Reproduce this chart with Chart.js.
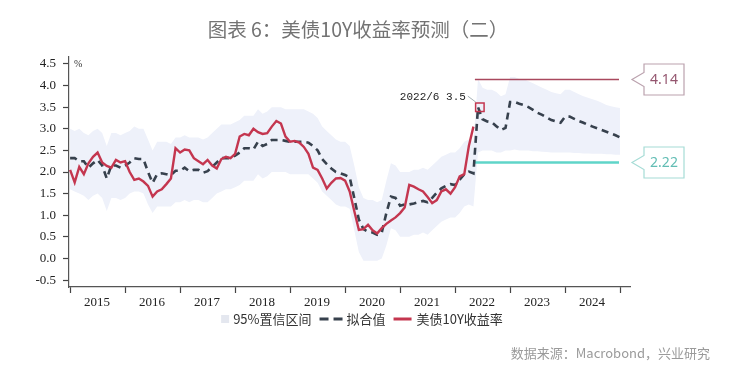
<!DOCTYPE html>
<html>
<head>
<meta charset="utf-8">
<script src="https://cdn.jsdelivr.net/npm/chart.js@4.4.1/dist/chart.umd.min.js"></script>
<style>
  html, body { margin: 0; padding: 0; background: #fff; }
</style>
</head>
<body>
<canvas id="chart" width="729" height="379"></canvas>
<script>
// monthly series, first point = Jan 2015
const startYear = 2015;
const yearLabels = ['2015', '2016', '2017', '2018', '2019', '2020', '2021', '2022', '2023', '2024'];
const yTicks = [-0.5, 0, 0.5, 1, 1.5, 2, 2.5, 3, 3.5, 4, 4.5];

// 美债10Y收益率 (actual)
const yieldActual = [
  2.05, 1.76, 2.12, 1.95, 2.2, 2.35, 2.45, 2.22, 2.14, 2.1, 2.28, 2.22,
  2.25, 2.0, 1.82, 1.85, 1.78, 1.68, 1.43, 1.55, 1.6, 1.72, 1.85, 2.55,
  2.45, 2.52, 2.5, 2.32, 2.25, 2.18, 2.28, 2.15, 2.08, 2.3, 2.35, 2.32,
  2.42, 2.82, 2.88, 2.85, 3.0, 2.92, 2.88, 2.9, 3.05, 3.18, 3.12, 2.82,
  2.7, 2.72, 2.68, 2.58, 2.42, 2.1, 2.05, 1.85, 1.62, 1.75, 1.85, 1.86,
  1.8, 1.55, 1.1, 0.66, 0.68, 0.78, 0.65, 0.58, 0.7, 0.8, 0.88, 0.95,
  1.05, 1.18, 1.7, 1.66, 1.6, 1.55, 1.42, 1.28, 1.35, 1.55, 1.6, 1.5,
  1.65, 1.9, 1.95, 2.6, 3.05
];

// 拟合值 (fitted + forecast)
const yieldFitted = [
  2.32, 2.32, 2.25, 2.25, 2.1, 2.2, 2.28, 2.15, 1.85, 2.15, 2.15, 2.1,
  2.15, 2.22, 2.32, 2.3, 2.3, 2.0, 1.75, 1.95, 1.97, 1.95, 1.93, 2.03,
  2.03, 2.1, 2.02, 2.05, 2.05, 1.98, 2.02, 2.12, 2.22, 2.32, 2.32, 2.32,
  2.38, 2.45, 2.55, 2.55, 2.52, 2.7, 2.6, 2.65, 2.74, 2.74, 2.74, 2.72,
  2.7, 2.7, 2.7, 2.7, 2.68, 2.6, 2.5, 2.3, 2.18, 2.08, 2.0, 1.97,
  1.93, 1.88, 1.4, 0.9, 0.68, 0.62, 0.6, 0.55, 0.6, 1.05, 1.43, 1.4,
  1.22, 1.25, 1.25, 1.27, 1.3, 1.33, 1.3, 1.4, 1.52, 1.62, 1.68, 1.72,
  1.7, 1.82, 1.95, 2.01, 1.97, 3.5, 3.22, 3.17, 3.15, 3.06, 2.97, 3.02,
  3.62, 3.62, 3.58, 3.55, 3.5, 3.44, 3.37, 3.32, 3.26, 3.2, 3.17, 3.14,
  3.28, 3.28, 3.23, 3.18, 3.14, 3.09, 3.05, 3.01, 2.97, 2.93, 2.89, 2.85,
  2.8
];

// 95%置信区间
const bandUpper = [
  3.0, 2.95, 3.0, 2.9, 2.85, 2.95, 3.0, 2.9, 2.6, 2.9, 2.9, 2.85,
  2.9, 2.95, 3.05, 3.0, 3.0, 2.75, 2.5, 2.7, 2.7, 2.7, 2.65, 2.8,
  2.8, 2.85, 2.8, 2.8, 2.8, 2.75, 2.8, 2.9, 3.0, 3.1, 3.1, 3.1,
  3.15, 3.2, 3.3, 3.3, 3.3, 3.45, 3.35, 3.4, 3.5, 3.5, 3.5, 3.45,
  3.45, 3.45, 3.45, 3.45, 3.4, 3.35, 3.25, 3.05, 2.95, 2.85, 2.75, 2.7,
  2.7, 2.6, 2.15, 1.65, 1.4, 1.35, 1.35, 1.3, 1.35, 1.8, 2.2, 2.15,
  2.0, 2.0, 2.0, 2.05, 2.05, 2.1, 2.05, 2.15, 2.25, 2.35, 2.4, 2.45,
  2.45, 2.55, 2.7, 2.75, 2.7, 4.15, 3.95, 3.9, 3.9, 3.85, 3.75, 3.8,
  4.2, 4.2, 4.15, 4.15, 4.1, 4.05, 4.0, 3.95, 3.9, 3.85, 3.82, 3.8,
  3.9, 3.9, 3.85, 3.8, 3.75, 3.72, 3.68, 3.65, 3.6, 3.55, 3.52, 3.5,
  3.48
];
const bandLower = [
  1.6, 1.55, 1.5, 1.45, 1.35, 1.45, 1.5, 1.4, 1.1, 1.4, 1.4, 1.35,
  1.4, 1.5, 1.55, 1.55, 1.5, 1.25, 1.05, 1.2, 1.2, 1.2, 1.2, 1.3,
  1.3, 1.35, 1.3, 1.35, 1.35, 1.3, 1.3, 1.4, 1.5, 1.55, 1.6, 1.6,
  1.65, 1.7, 1.8, 1.8, 1.8, 1.95, 1.85, 1.9, 2.0, 2.0, 2.0, 2.0,
  1.95, 1.95, 1.95, 1.95, 1.95, 1.85, 1.75, 1.55, 1.45, 1.35, 1.25, 1.2,
  1.2, 1.15, 0.65, 0.15, -0.05, -0.05, -0.05, -0.05, 0.0, 0.3, 0.7, 0.65,
  0.5, 0.5, 0.5, 0.55, 0.55, 0.6, 0.55, 0.65, 0.75, 0.85, 0.9, 0.95,
  0.95, 1.05, 1.2, 1.25, 1.2, 2.45, 2.5, 2.5, 2.5, 2.45, 2.45, 2.5,
  2.5, 2.52, 2.5, 2.5, 2.5, 2.48, 2.48, 2.47, 2.46, 2.45, 2.45, 2.45,
  2.45, 2.45, 2.44, 2.44, 2.43, 2.43, 2.42, 2.42, 2.42, 2.41, 2.41, 2.4,
  2.4
];

// forecast range lines and the marked point
const levelValues = [4.14, 2.22];
const levelSpan = [2022.36, 2024.98];
const markPoint = { x: 2022.45, y: 3.5, label: '2022/6 3.5' };

const RED = '#c4364f';
const DARK = '#37414d';
const BAND = '#eef1fa';
const levelColors = ['#a9485e', '#5fd5c9'];
const boxBorders = ['#bba2ae', '#a6dcd6'];
const boxText = ['#94566f', '#62bdb4'];

const toXY = arr => arr.map((v, i) => ({ x: startYear + i / 12, y: v }));
const levelData = v => levelSpan.map(x => ({ x, y: v }));

const decor = {
  id: 'decor',
  afterDatasetsDraw(chart) {
    const { ctx, chartArea: a, scales: { x, y } } = chart;
    ctx.save();

    // unit label
    ctx.fillStyle = '#333';
    ctx.font = '10px "Liberation Serif"';
    ctx.textAlign = 'left';
    ctx.textBaseline = 'middle';
    ctx.fillText('%', a.left + 5, y.getPixelForValue(4.5));

    // point annotation
    const mx = x.getPixelForValue(markPoint.x);
    const my = y.getPixelForValue(markPoint.y);
    ctx.font = '11px "Liberation Mono"';
    ctx.textAlign = 'right';
    ctx.fillStyle = '#222';
    ctx.fillText(markPoint.label, mx - 14, my - 10);
    ctx.strokeStyle = '#8a9aa0';
    ctx.lineWidth = 0.8;
    ctx.beginPath();
    ctx.moveTo(mx - 12, my - 11);
    ctx.lineTo(mx - 4, my - 5);
    ctx.stroke();

    // callout boxes on the right
    levelValues.forEach((v, i) => {
      const cy = y.getPixelForValue(v);
      const tip = a.right + 2, bx = a.right + 14, bw = 40, bh = 31;
      ctx.beginPath();
      ctx.moveTo(bx, cy - 7);
      ctx.lineTo(bx, cy - bh / 2);
      ctx.lineTo(bx + bw, cy - bh / 2);
      ctx.lineTo(bx + bw, cy + bh / 2);
      ctx.lineTo(bx, cy + bh / 2);
      ctx.lineTo(bx, cy + 7);
      ctx.lineTo(tip, cy);
      ctx.closePath();
      ctx.fillStyle = '#fff';
      ctx.fill();
      ctx.strokeStyle = boxBorders[i];
      ctx.lineWidth = 1.2;
      ctx.stroke();
      ctx.fillStyle = boxText[i];
      ctx.font = '14px "Noto Sans"';
      ctx.textAlign = 'center';
      ctx.fillText(v.toFixed(2), bx + bw / 2, cy + 1);
    });
    ctx.restore();
  },
  afterDraw(chart) {
    const { ctx } = chart;
    ctx.save();
    ctx.textBaseline = 'middle';

    // title
    ctx.textAlign = 'center';
    ctx.fillStyle = '#737373';
    ctx.font = '19.5px "Noto Sans CJK SC"';
    ctx.fillText('图表 6：美债10Y收益率预测（二）', 358, 30);

    // legend
    ctx.textAlign = 'left';
    const ly = 319;
    ctx.font = '13px "Noto Sans CJK SC"';
    const t1 = '95%置信区间', t2 = '拟合值', t3 = '美债10Y收益率';
    const w1 = ctx.measureText(t1).width, w2 = ctx.measureText(t2).width, w3 = ctx.measureText(t3).width;
    const total = 8 + 4 + w1 + 8 + 23 + 4 + w2 + 8 + 18 + 5 + w3;
    let lx = 362 - total / 2;
    ctx.fillStyle = '#e4e7ef';
    ctx.fillRect(lx, ly - 4, 8, 8);
    lx += 12;
    ctx.fillStyle = '#333';
    ctx.fillText(t1, lx, ly);
    lx += w1 + 8;
    ctx.strokeStyle = DARK;
    ctx.lineWidth = 3;
    ctx.setLineDash([9, 5]);
    ctx.beginPath(); ctx.moveTo(lx, ly); ctx.lineTo(lx + 23, ly); ctx.stroke();
    ctx.setLineDash([]);
    lx += 27;
    ctx.fillText(t2, lx, ly);
    lx += w2 + 8;
    ctx.strokeStyle = RED;
    ctx.beginPath(); ctx.moveTo(lx, ly); ctx.lineTo(lx + 18, ly); ctx.stroke();
    lx += 23;
    ctx.fillText(t3, lx, ly);

    // source
    ctx.font = '13px "Noto Sans CJK SC"';
    ctx.fillStyle = '#9a9a9a';
    ctx.textAlign = 'right';
    ctx.fillText('数据来源：Macrobond，兴业研究', 710, 353);
    ctx.restore();
  }
};

new Chart(document.getElementById('chart'), {
  type: 'line',
  data: {
    datasets: [
      {
        data: [markPoint], showLine: false, pointStyle: 'rect', pointRadius: 6,
        pointBorderColor: RED, pointBackgroundColor: 'rgba(0,0,0,0)', pointBorderWidth: 1.5
      },
      { data: toXY(yieldActual), borderColor: RED, borderWidth: 2.4, pointRadius: 0 },
      { data: toXY(yieldFitted), borderColor: DARK, borderWidth: 2.6, borderDash: [7, 5], pointRadius: 0 },
      { data: levelData(levelValues[0]), borderColor: levelColors[0], borderWidth: 1.5, pointRadius: 0 },
      { data: levelData(levelValues[1]), borderColor: levelColors[1], borderWidth: 2.5, pointRadius: 0 },
      { data: toXY(bandLower), borderWidth: 0, pointRadius: 0, fill: false },
      { data: toXY(bandUpper), borderWidth: 0, pointRadius: 0, fill: '-1', backgroundColor: BAND }
    ]
  },
  options: {
    responsive: false,
    animation: false,
    layout: { padding: { left: 0, right: 99, top: 57, bottom: 70 } },
    plugins: {
      legend: { display: false },
      tooltip: { enabled: false },
      title: { display: false }
    },
    scales: {
      x: {
        type: 'linear',
        min: 2014.98,
        max: 2025.18,
        afterBuildTicks: s => { s.ticks = yearLabels.map(Number).concat([2025]).map(v => ({ value: v })); },
        afterFit: s => { s.height = 22; },
        ticks: {
          color: '#222',
          font: { family: '"Liberation Serif"', size: 13 },
          padding: 2,
          labelOffset: 27,
          maxRotation: 0,
          autoSkip: false,
          callback: v => yearLabels.includes(String(v)) ? String(v) : ''
        },
        grid: { drawOnChartArea: false, tickLength: 6, color: '#444', tickWidth: 1.2 },
        border: { color: '#555', width: 1.2 }
      },
      y: {
        min: -0.66,
        max: 4.66,
        afterBuildTicks: s => { s.ticks = yTicks.map(v => ({ value: v })); },
        afterFit: s => { s.width = 69; },
        ticks: {
          color: '#222',
          font: { family: '"Liberation Serif"', size: 13 },
          padding: 7,
          callback: v => v.toFixed(1)
        },
        grid: { drawOnChartArea: false, tickLength: 6, color: '#444', tickWidth: 1.2 },
        border: { color: '#555', width: 1.2 }
      }
    }
  },
  plugins: [decor]
});
</script>
</body>
</html>
